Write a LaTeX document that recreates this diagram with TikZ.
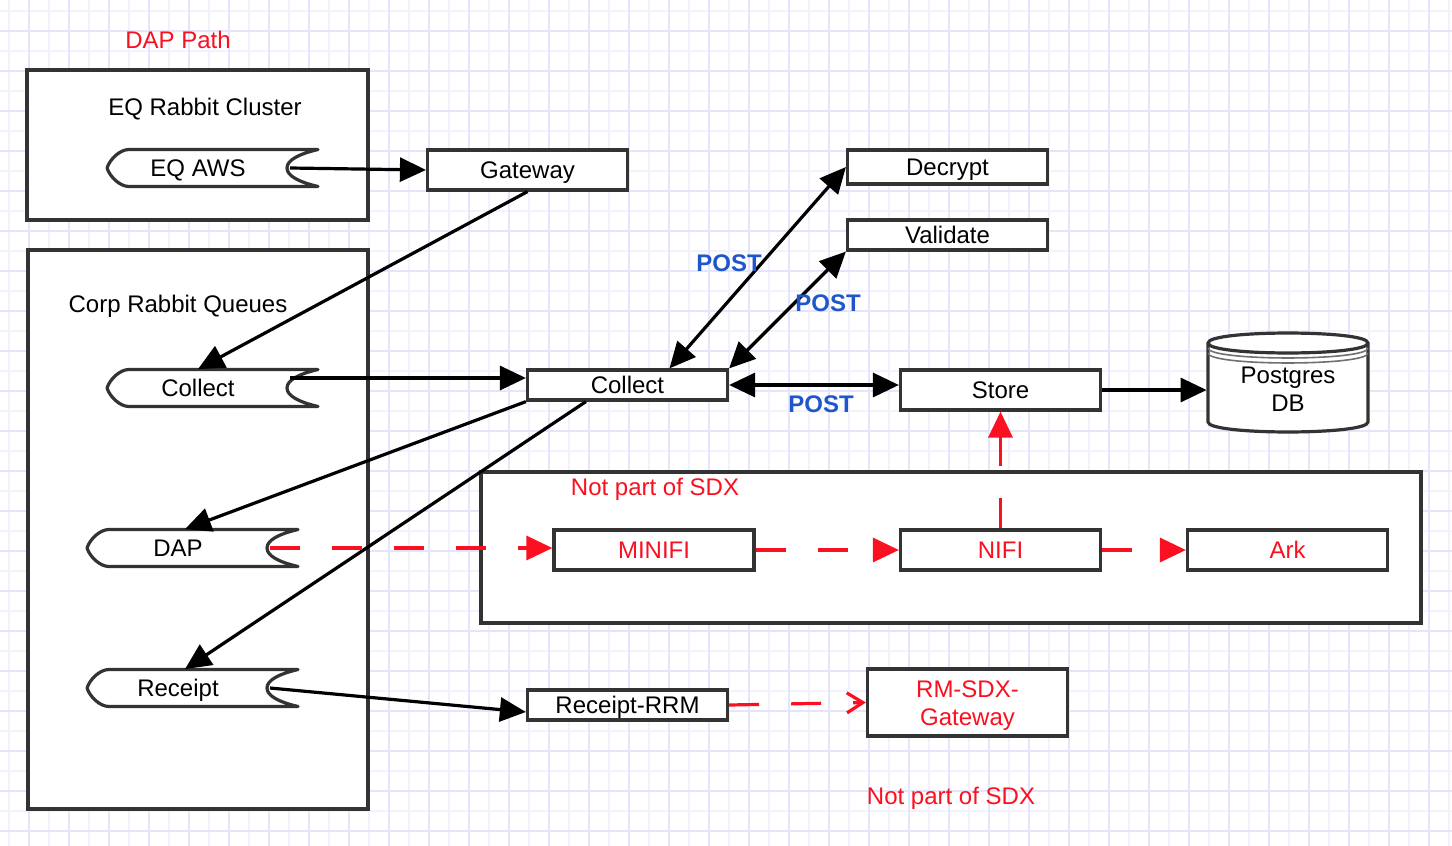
\documentclass[tikz,border=0pt]{standalone}
\usepackage{fontspec}
\setmainfont{Liberation Sans}
\usetikzlibrary{arrows.meta,positioning}

\definecolor{gridminor}{RGB}{242,242,254}
\definecolor{gridmajor}{RGB}{228,228,251}
\definecolor{boxline}{RGB}{51,51,51}
\definecolor{sdxred}{RGB}{250,16,32}
\definecolor{postblue}{RGB}{32,86,204}

\tikzset{
	oneline/.style={text height=10.9pt, text depth=2.5pt},
	container/.style={draw=boxline, line width=1.6pt, fill=white},
	procbox/.style={draw=boxline, line width=1.6pt, fill=white, minimum width=100pt, minimum height=20pt, inner sep=0pt, oneline},
	queueline/.style={draw=boxline, line width=1.6pt, line join=round, fill=white},
	queuetext/.style={minimum height=18.5pt, inner sep=0pt, oneline},
	dbline/.style={draw=boxline, line width=1.6pt},
	dbtext/.style={align=center, minimum width=81pt, minimum height=40pt, inner sep=0pt},
	titletext/.style={oneline},
	redlabel/.style={text=sdxred, oneline},
	postlabel/.style={text=postblue, font=\fontsize{12}{14}\selectfont\bfseries, oneline},
	flow/.style={draw=black, line width=1.6pt, ->},
	biflow/.style={draw=black, line width=1.6pt, <->},
	sdxflow/.style={draw=sdxred, line width=1.6pt, dash pattern=on 15pt off 16pt, ->}
}

% cola de Rabbit: nombre, x de la punta, y, texto
\newcommand{\rabbitq}[4]{%
	\begin{scope}[shift={(#2,#3)}]
		\draw[queueline] (0,0) .. controls (3,-9) and (13,-18.5) .. (22,-18.5) -- (211,-18.5) .. controls (192,-14) and (180,-8) .. (180,0) .. controls (180,8) and (192,14) .. (211,18.5) -- (22,18.5) .. controls (13,18.5) and (3,9) .. (0,0) -- cycle;
		\node[queuetext] (#1) at (91,0) {#4};
		\coordinate (#1-out) at (183,0);
	\end{scope}}

\begin{document}
\begin{tikzpicture}[x=0.5pt, y=-0.5pt, font=\fontsize{12}{14}\selectfont, >={Triangle[length=13pt,width=12pt]}]
	\useasboundingbox (0,0) rectangle (1452,846);
	\fill[white] (0,0) rectangle (1452,846);

	% rejilla de fondo
	\foreach \gx in {9,29,...,1449} \draw[gridminor, line width=0.9pt] (\gx,0) -- (\gx,846);
	\foreach \gy in {11,31,...,846} \draw[gridminor, line width=0.9pt] (0,\gy) -- (1452,\gy);
	\foreach \gx in {29,69,...,1449} \draw[gridmajor, line width=0.9pt] (\gx,0) -- (\gx,846);
	\foreach \gy in {31,71,...,846} \draw[gridmajor, line width=0.9pt] (0,\gy) -- (1452,\gy);

	% contenedores
	\draw[container] (27,70) rectangle (368,220); % EQ Rabbit Cluster
	\draw[container] (28,250) rectangle (368,809); % Corp Rabbit Queues
	\draw[container] (481,472) rectangle (1421,623); % fuera de SDX

	\node[redlabel] (dappath) at (178,40) {DAP Path};
	\node[titletext] (eqtitle) at (205,107) {EQ Rabbit Cluster};
	\node[titletext] (corptitle) at (178,304) {Corp Rabbit Queues};
	\node[redlabel] (sdxtitle) at (655,487) {Not part of SDX};
	\node[redlabel] (sdxnote) at (951,796) {Not part of SDX};

	% colas
	\rabbitq{eqaws}{107}{168}{EQ AWS}
	\rabbitq{collectq}{107}{388}{Collect}
	\rabbitq{dapq}{87}{548}{DAP}
	\rabbitq{receiptq}{87}{688}{Receipt}

	% cajas
	\node[procbox] (gateway) at (527.5,170) {Gateway};
	\node[procbox, minimum height=15pt] (collect) at (627.5,385) {Collect};
	\node[procbox, minimum height=17pt] (decrypt) at (947.5,167) {Decrypt};
	\node[procbox, minimum height=15pt] (validate) at (947.5,235) {Validate};
	\node[procbox] (store) at (1000.5,390) {Store};
	\node[procbox, text=sdxred] (minifi) at (654,550) {MINIFI};
	\node[procbox, text=sdxred] (nifi) at (1000.5,550) {NIFI};
	\node[procbox, text=sdxred] (ark) at (1287.5,550) {Ark};
	\node[procbox, minimum height=15pt] (receiptrrm) at (627.5,705) {Receipt-RRM};
	\node[procbox, minimum height=33.5pt, label={[text=sdxred, align=center, yshift=-1.5pt]center:RM-SDX-\\Gateway}] (rmsdx) at (967.5,702.5) {};

	% base de datos
	\filldraw[dbline, fill=white] (1208,343) .. controls (1208,329.7) and (1368,329.7) .. (1368,343) -- (1368,422) .. controls (1368,435.3) and (1208,435.3) .. (1208,422) -- cycle;
	\draw[dbline] (1208,343) .. controls (1208,356.3) and (1368,356.3) .. (1368,343);
	\draw[boxline!70, line width=0.8pt] (1208,348) .. controls (1208,361.3) and (1368,361.3) .. (1368,348);
	\draw[boxline!70, line width=0.8pt] (1208,353) .. controls (1208,366.3) and (1368,366.3) .. (1368,353);
	\node[dbtext] (postgres) at (1288,389.5) {Postgres\\DB};

	% conexiones
	\coordinate (collectq-hi) at ([yshift=5pt]collectq-out);
	\draw[flow] (eqaws-out) -- (gateway.west);
	\draw[flow] (gateway.south) -- (collectq.north);
	\draw[flow] (collectq-hi) -- (collectq-hi -| collect.west);
	\draw[flow] (collect.south west) -- ([xshift=3.5pt]dapq.north);
	\draw[flow] ([xshift=30pt]collect.south west) -- ([xshift=3.5pt]receiptq.north);
	\draw[flow] (receiptq-out) -- ([yshift=-3.5pt]receiptrrm.west);
	\draw[biflow] ([xshift=21pt]collect.north) -- (decrypt.west);
	\draw[biflow] (collect.north east) -- (validate.south west);
	\draw[biflow] (collect.east) -- (collect.east -| store.west);
	\draw[flow] (store.east) -- (store.east -| postgres.west);

	% flujo fuera de SDX
	\draw[sdxflow] (dapq-out) -- (dapq-out -| minifi.west);
	\draw[sdxflow] (minifi.east) -- (nifi.west);
	\draw[sdxflow] (nifi.east) -- (ark.west);
	\draw[sdxflow] (nifi.north) -- (store.south);
	\draw[sdxflow, -{Straight Barb[length=8pt,width=10pt]}] (receiptrrm.east) -- (rmsdx.west);

	\node[postlabel] (postdecrypt) at (729,263) {POST};
	\node[postlabel] (postvalidate) at (828,303) {POST};
	\node[postlabel] (poststore) at (821,404) {POST};
\end{tikzpicture}
\end{document}
